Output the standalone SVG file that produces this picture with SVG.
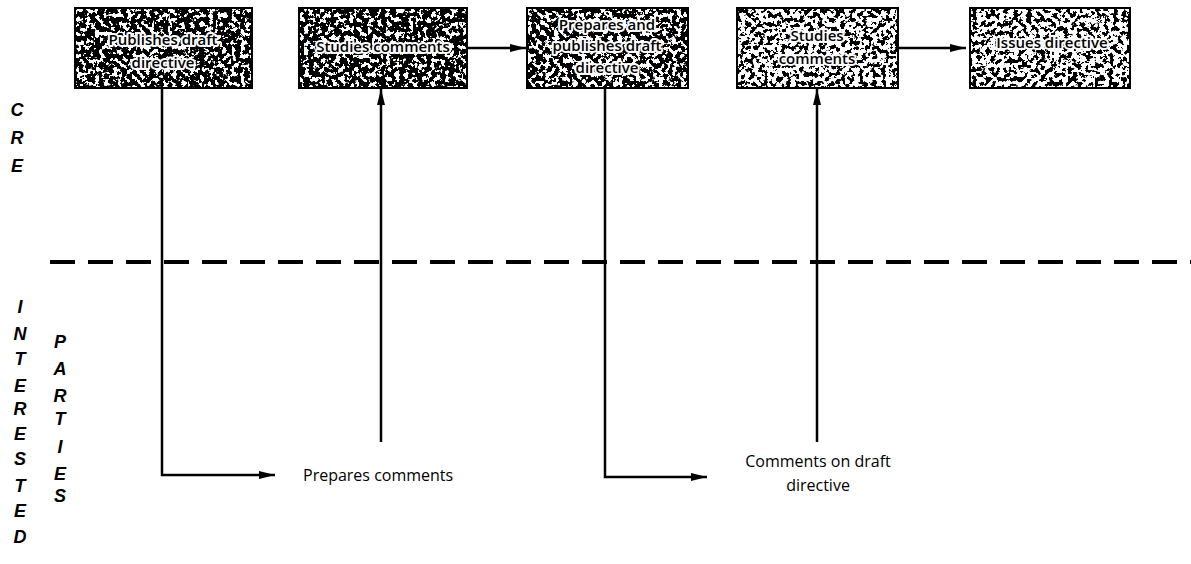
<svg xmlns="http://www.w3.org/2000/svg" width="1191" height="564" viewBox="0 0 1191 564">
<style>
.box{fill:none;stroke:#000;stroke-width:2}
.bt{font-family:"Open Sans","Liberation Sans",sans-serif;font-size:15px;font-weight:600;fill:#000;stroke:#fff;stroke-width:4px;paint-order:stroke fill;stroke-linejoin:round;text-anchor:middle}
.lt{font-family:"Open Sans","Liberation Sans",sans-serif;font-size:16px;fill:#000}
.side{font-family:"Liberation Sans",sans-serif;font-size:18px;font-weight:bold;font-style:italic;fill:#000;text-anchor:middle}
.ln{fill:none;stroke:#000;stroke-width:2.5}
.dash{fill:none;stroke:#000;stroke-width:4;stroke-dasharray:25 13}
</style>
<defs>
<marker id="ah" viewBox="0 0 16 10" refX="16" refY="5" markerWidth="16" markerHeight="10" markerUnits="userSpaceOnUse" orient="auto">
<path d="M0,1 L16,5 L0,9 Z" fill="#000"/>
</marker>
<filter id="t1" x="0" y="0" width="1" height="1" color-interpolation-filters="sRGB">
<feTurbulence type="fractalNoise" baseFrequency="0.22" numOctaves="3" seed="3"/>
<feColorMatrix type="matrix" values="0 0 0 0 0 0 0 0 0 0 0 0 0 0 0 -30 0 0 0 17.1"/>
</filter>
<filter id="t2" x="0" y="0" width="1" height="1" color-interpolation-filters="sRGB">
<feTurbulence type="fractalNoise" baseFrequency="0.22" numOctaves="3" seed="7"/>
<feColorMatrix type="matrix" values="0 0 0 0 0 0 0 0 0 0 0 0 0 0 0 -30 0 0 0 16.5"/>
</filter>
<filter id="t3" x="0" y="0" width="1" height="1" color-interpolation-filters="sRGB">
<feTurbulence type="fractalNoise" baseFrequency="0.22" numOctaves="3" seed="11"/>
<feColorMatrix type="matrix" values="0 0 0 0 0 0 0 0 0 0 0 0 0 0 0 -30 0 0 0 14.7"/>
</filter>
</defs>
<rect width="1191" height="564" fill="#fff"/>

<g id="cre-label">
<text class="side" x="17" y="116">C</text>
<text class="side" x="17" y="144">R</text>
<text class="side" x="17" y="172">E</text>
</g>
<g id="interested-label">
<text class="side" x="20" y="313">I</text>
<text class="side" x="20" y="340">N</text>
<text class="side" x="20" y="365">T</text>
<text class="side" x="20" y="392">E</text>
<text class="side" x="20" y="415">R</text>
<text class="side" x="20" y="440">E</text>
<text class="side" x="20" y="465">S</text>
<text class="side" x="20" y="492">T</text>
<text class="side" x="20" y="517">E</text>
<text class="side" x="20" y="543">D</text>
</g>
<g id="parties-label">
<text class="side" x="60" y="348">P</text>
<text class="side" x="60" y="375">A</text>
<text class="side" x="60" y="402">R</text>
<text class="side" x="60" y="425">T</text>
<text class="side" x="60" y="453">I</text>
<text class="side" x="60" y="480">E</text>
<text class="side" x="60" y="502">S</text>
</g>

<g id="divider">
<line class="dash" x1="50" y1="262" x2="1191" y2="262"/>
</g>

<g id="connectors">
<polyline class="ln" points="162,88 162,475 275,475" marker-end="url(#ah)"/>
<line class="ln" x1="381" y1="442" x2="381" y2="89" marker-end="url(#ah)"/>
<line class="ln" x1="467" y1="48" x2="526" y2="48" marker-end="url(#ah)"/>
<polyline class="ln" points="605,88 605,477 707,477" marker-end="url(#ah)"/>
<line class="ln" x1="817" y1="442" x2="817" y2="89" marker-end="url(#ah)"/>
<line class="ln" x1="898" y1="48" x2="966" y2="48" marker-end="url(#ah)"/>
</g>

<g id="n1">
<rect x="75" y="8" width="177" height="80" filter="url(#t1)"/>
<rect class="box" x="75" y="8" width="177" height="80"/>
<text class="bt" x="163" y="45">Publishes draft</text>
<text class="bt" x="163" y="68">directive</text>
</g>
<g id="n2">
<rect x="299" y="8" width="168" height="80" filter="url(#t1)"/>
<rect class="box" x="299" y="8" width="168" height="80"/>
<text class="bt" x="383" y="52">Studies comments</text>
</g>
<g id="n3">
<rect x="527" y="8" width="161" height="80" filter="url(#t2)"/>
<rect class="box" x="527" y="8" width="161" height="80"/>
<text class="bt" x="607" y="30">Prepares and</text>
<text class="bt" x="607" y="51">publishes draft</text>
<text class="bt" x="607" y="73">directive</text>
</g>
<g id="n4">
<rect x="737" y="8" width="161" height="80" filter="url(#t3)"/>
<rect class="box" x="737" y="8" width="161" height="80"/>
<text class="bt" x="817" y="41">Studies</text>
<text class="bt" x="817" y="64">comments</text>
</g>
<g id="n5">
<rect x="970" y="8" width="160" height="80" filter="url(#t3)"/>
<rect class="box" x="970" y="8" width="160" height="80"/>
<text class="bt" x="1052" y="48">Issues directive</text>
</g>

<g id="n6">
<text class="lt" x="303" y="481">Prepares comments</text>
</g>
<g id="n7">
<text class="lt" x="818" y="467" text-anchor="middle">Comments on draft</text>
<text class="lt" x="818" y="491" text-anchor="middle">directive</text>
</g>
</svg>
